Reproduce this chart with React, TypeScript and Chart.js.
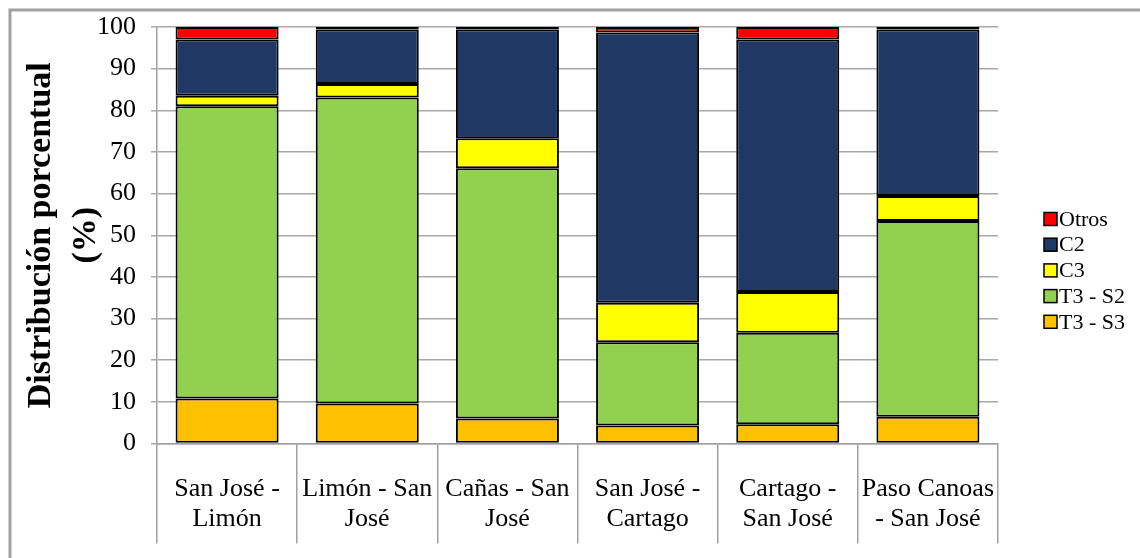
import React, { useEffect, useRef } from "react";
import { Chart, registerables } from "chart.js";

Chart.register(...registerables);

const categories: string[][] = [
  ["San José -", "Limón"],
  ["Limón - San", "José"],
  ["Cañas - San", "José"],
  ["San José -", "Cartago"],
  ["Cartago -", "San José"],
  ["Paso Canoas", "- San José"],
];

const seriesNames = ["T3 - S3", "T3 - S2", "C3", "C2", "Otros"];
const t3s3 = [10.8, 9.6, 6.0, 4.3, 4.6, 6.4];
const t3s2 = [70.2, 73.5, 60.1, 20.0, 22.0, 47.0];
const c3 = [2.5, 3.2, 7.2, 9.5, 9.8, 6.0];
const c2 = [13.5, 13.1, 26.1, 64.9, 60.6, 40.0];
const otros = [3.0, 0.6, 0.6, 1.3, 3.0, 0.6];
const seriesColors = ["#FFC000", "#92D050", "#FFFF00", "#1F3864", "#FF0000"];

const yTicks = [0, 10, 20, 30, 40, 50, 60, 70, 80, 90, 100];
const yTitle = ["Distribución porcentual", "(%)"];

const SERIF = "'Liberation Serif', 'Times New Roman', serif";

const framePlugin = {
  id: "frame",
  beforeDraw(chart: any) {
    const ctx = chart.ctx;
    ctx.save();
    ctx.strokeStyle = "#a0a0a0";
    ctx.lineWidth = 3;
    ctx.beginPath();
    ctx.moveTo(10, chart.height);
    ctx.lineTo(10, 10);
    ctx.lineTo(chart.width, 10);
    ctx.stroke();
    ctx.restore();
  },
};

const legendPlugin = {
  id: "customLegend",
  afterDraw(chart: any) {
    const ctx = chart.ctx;
    const ds = chart.data.datasets.slice().reverse();
    const x0 = 1044;
    const y0 = 219;
    const step = 25.7;
    const sq = 13;
    ctx.save();
    ctx.font = `22px ${SERIF}`;
    ctx.textBaseline = "middle";
    ctx.textAlign = "left";
    ds.forEach((d: any, i: number) => {
      const cy = y0 + i * step;
      ctx.fillStyle = d.backgroundColor;
      ctx.fillRect(x0, cy - sq / 2, sq, sq);
      ctx.strokeStyle = "#000";
      ctx.lineWidth = 1.5;
      ctx.strokeRect(x0, cy - sq / 2, sq, sq);
      ctx.fillStyle = "#000";
      ctx.fillText(d.label, x0 + sq + 2, cy + 1);
    });
    ctx.restore();
  },
};

export default function App() {
  const ref = useRef<HTMLCanvasElement | null>(null);
  useEffect(() => {
    if (!ref.current) return;
    const values = [t3s3, t3s2, c3, c2, otros];
    const chart = new Chart(ref.current, {
      type: "bar",
      data: {
        labels: categories,
        datasets: seriesNames.map((name, i) => ({
          label: name,
          data: values[i],
          backgroundColor: seriesColors[i],
          borderColor: "#000",
          borderWidth: 2,
          borderSkipped: false,
          barPercentage: 1,
          categoryPercentage: 0.735,
        })),
      },
      options: {
        animation: false,
        responsive: false,
        maintainAspectRatio: false,
        layout: { padding: { left: 10, top: 27, right: 142, bottom: 0 } },
        plugins: { legend: { display: false }, tooltip: { enabled: false } },
        scales: {
          x: {
            stacked: true,
            afterFit(scale: any) {
              scale.height = 114.5;
            },
            grid: {
              display: true,
              drawOnChartArea: false,
              drawTicks: true,
              tickLength: 100,
              color: "#a0a0a0",
              lineWidth: 1.5,
            },
            border: { display: true, color: "#a0a0a0", width: 1.5 },
            ticks: {
              padding: -69,
              color: "#000",
              maxRotation: 0,
              autoSkip: false,
              font: { family: SERIF, size: 26, lineHeight: 1.15 },
            },
          },
          y: {
            stacked: true,
            min: 0,
            max: 100,
            afterFit(scale: any) {
              scale.width = 147;
              scale.paddingTop = 0;
              scale.paddingBottom = 0;
            },
            afterBuildTicks(scale: any) {
              scale.ticks = yTicks.map((v) => ({ value: v }));
            },
            grid: {
              color: "#a8a8a8",
              lineWidth: 1.5,
              tickLength: 6,
            },
            border: { display: true, color: "#a0a0a0", width: 1.5 },
            ticks: {
              padding: 15,
              color: "#000",
              font: { family: SERIF, size: 26, lineHeight: 1.0 },
            },
            title: {
              display: true,
              text: yTitle,
              color: "#000",
              padding: { top: 9, bottom: 0 },
              font: { family: SERIF, size: 34, weight: "bold", lineHeight: 1.32 },
            },
          },
        },
      },
      plugins: [framePlugin, legendPlugin],
    } as any);
    return () => chart.destroy();
  }, []);
  return (
    <div style={{ position: "absolute", left: 0, top: 0, width: 1140, height: 558, background: "#fff" }}>
      <canvas ref={ref} width={1140} height={558} />
    </div>
  );
}
